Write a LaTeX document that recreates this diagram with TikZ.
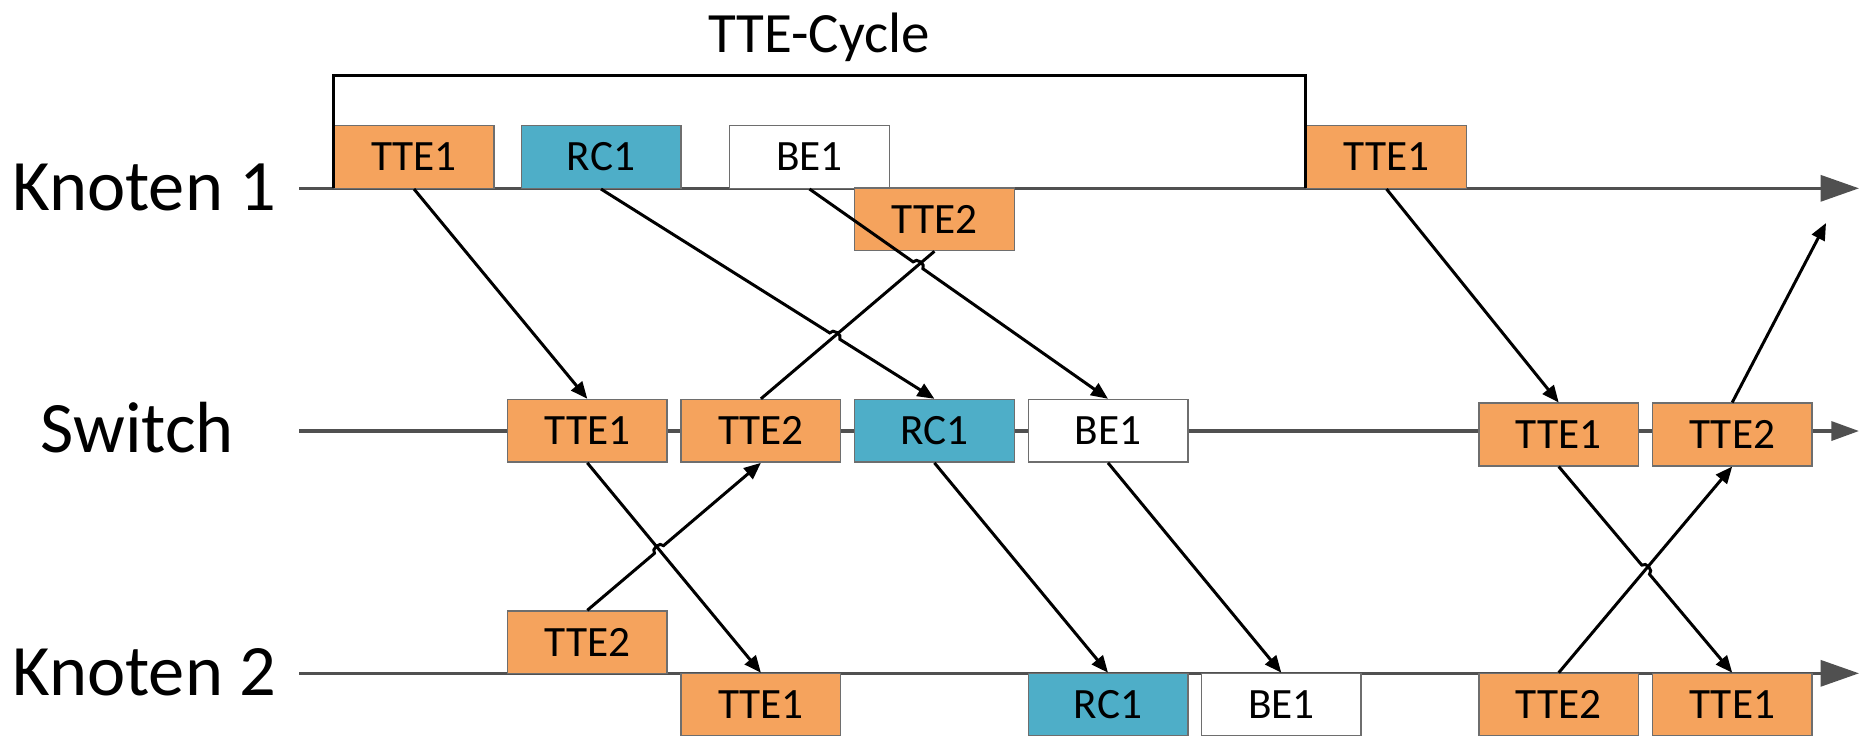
\documentclass[tikz,border=0pt]{standalone}
\usepackage{fontspec}
\setmainfont{Carlito}
\usetikzlibrary{arrows.meta,calc}
\definecolor{tteor}{RGB}{245,163,93}
\definecolor{rcblue}{RGB}{78,174,200}
\definecolor{boxgray}{RGB}{110,110,110}
\definecolor{axisgray}{RGB}{80,80,80}
\tikzset{
  pkt/.style={draw=boxgray, line width=0.4pt, minimum width=1.595cm, minimum height=0.626cm,
    inner sep=0pt, font=\fontsize{12.3}{14}\selectfont, text height=7.8pt, text depth=0pt},
  tte/.style={pkt, fill=tteor},
  rc/.style={pkt, fill=rcblue},
  be/.style={pkt, fill=white},
  msg/.style={line width=0.85pt, -{Triangle[length=4.8pt,width=4pt]}},
  plainmsg/.style={line width=0.85pt},
  axisline/.style={line width=1pt, draw=axisgray},
  bigtip/.style={-{Triangle[length=0.385cm,width=0.26cm]}},
  smalltip/.style={-{Triangle[length=0.277cm,width=0.19cm]}},
  rowlabel/.style={anchor=base west, inner sep=0pt, font=\fontsize{20.6}{24}\selectfont},
  hop/.style={bend left=90, looseness=1.2}
}
\begin{document}
\begin{tikzpicture}[x=0.01cm, y=-0.01cm]
\clip (0,0) rectangle (1864,735);
\fill[white] (0,0) rectangle (1864,735);

% axes
\coordinate (k1s) at (299,188.3);
\coordinate (k1e) at (1859,188.3);
\coordinate (ss) at (299,431);
\coordinate (se) at (1859,431);
\coordinate (k2s) at (299,673.3);
\coordinate (k2e) at (1859,673.3);
\draw[axisline, bigtip, draw=axisgray, fill=axisgray] (k1s) -- (k1e);
\draw[axisline, smalltip, draw=axisgray, fill=axisgray] (ss) -- (se);
\draw[axisline, bigtip, draw=axisgray, fill=axisgray] (k2s) -- (k2e);

% row labels
\node[rowlabel] (lk1) at (12,210) {Knoten 1};
\node[rowlabel] (lsw) at (40,452.5) {Switch};
\node[rowlabel] (lk2) at (12,695.5) {Knoten 2};

% Knoten 1 packets
\node[tte] (k1tte1) at (414,157) {TTE1};
\node[rc]  (k1rc)   at (601,157) {RC1};
\node[be]  (k1be)   at (809.5,157) {BE1};
\node[tte] (k1tte2) at (934.4,219.3) {TTE2};
\node[tte] (k1tte1b) at (1386.5,157) {TTE1};

% Switch packets
\node[tte] (stte1) at (587.3,430.8) {TTE1};
\node[tte] (stte2) at (760.9,430.8) {TTE2};
\node[rc]  (src)   at (934.4,430.8) {RC1};
\node[be]  (sbe)   at (1108,430.8) {BE1};
\node[tte] (stte1b) at (1558.7,434.5) {TTE1};
\node[tte] (stte2b) at (1732.2,434.5) {TTE2};

% Knoten 2 packets
\node[tte] (k2tte2) at (587.3,642.3) {TTE2};
\node[tte] (k2tte1) at (760.9,704.7) {TTE1};
\node[rc]  (k2rc)   at (1108,704.7) {RC1};
\node[be]  (k2be)   at (1281.3,704.7) {BE1};
\node[tte] (k2tte2b) at (1558.7,704.7) {TTE2};
\node[tte] (k2tte1b) at (1732.2,704.7) {TTE1};

% TTE-Cycle bracket
\coordinate (brl) at (333.5,188.3);
\coordinate (brr) at (1305,188.3);
\draw[line width=0.85pt] (brl) |- (819,75) -| (brr);
\node[anchor=base, inner sep=0pt, font=\fontsize{16.2}{19}\selectfont] (cyc) at (819,52.7) {TTE-Cycle};

% crossing points
\coordinate (X1) at (intersection of k1rc.south--src.north and stte2.north--k1tte2.south);
\coordinate (X2) at (intersection of k1be.south--sbe.north and stte2.north--k1tte2.south);
\coordinate (X3) at (intersection of stte1.south--k2tte1.north and k2tte2.north--stte2.south);
\coordinate (X4) at (intersection of stte1b.south--k2tte1b.north and k2tte2b.north--stte2b.south);
\coordinate (free) at (1826,223);

% messages
\draw[msg] (k1tte1.south) -- (stte1.north);
\draw[msg] (k1rc.south) -- ($(X1)!1.7pt!(k1rc.south)$) to[hop] ($(X1)!1.7pt!(src.north)$) -- (src.north);
\draw[msg] (k1be.south) -- ($(X2)!1.7pt!(k1be.south)$) to[hop] ($(X2)!1.7pt!(sbe.north)$) -- (sbe.north);
\draw[plainmsg] (stte2.north) -- (k1tte2.south);
\draw[msg] (k2tte2.north) -- ($(X3)!1.7pt!(k2tte2.north)$) to[hop] ($(X3)!1.7pt!(stte2.south)$) -- (stte2.south);
\draw[msg] (stte1.south) -- (k2tte1.north);
\draw[msg] (src.south) -- (k2rc.north);
\draw[msg] (sbe.south) -- (k2be.north);
\draw[msg] (k1tte1b.south) -- (stte1b.north);
\draw[msg] (stte1b.south) -- ($(X4)!1.7pt!(stte1b.south)$) to[hop] ($(X4)!1.7pt!(k2tte1b.north)$) -- (k2tte1b.north);
\draw[msg] (k2tte2b.north) -- (stte2b.south);
\draw[msg] (stte2b.north) -- (free);
\end{tikzpicture}
\end{document}
